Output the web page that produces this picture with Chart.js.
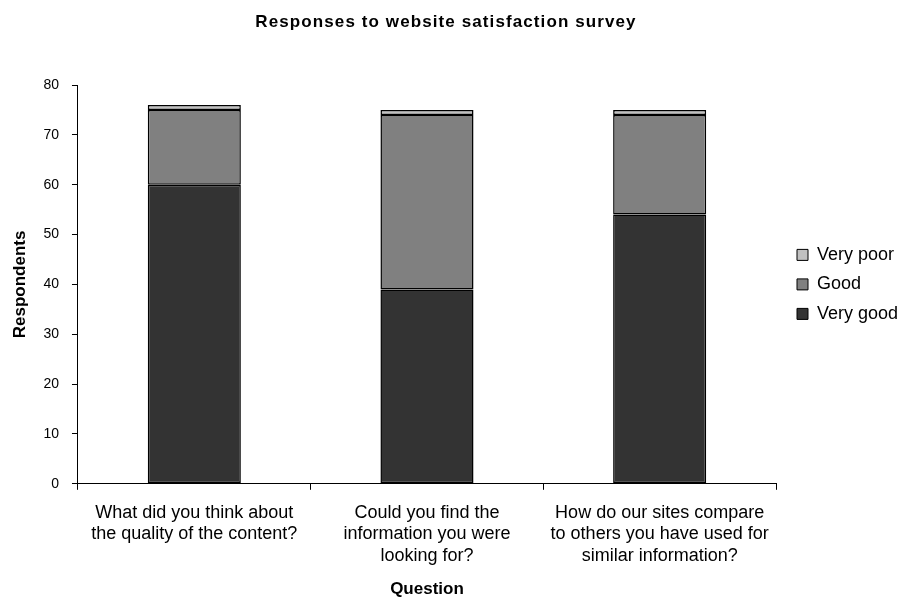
<!DOCTYPE html>
<html>
<head>
<meta charset="utf-8">
<script src="https://cdn.jsdelivr.net/npm/chart.js@4.4.1/dist/chart.umd.min.js"></script>
<style>
  html, body { margin: 0; padding: 0; background: #fff; }
  #wrap { width: 897px; height: 600px; }
</style>
</head>
<body>
<div id="wrap"><canvas id="surveyChart"></canvas></div>
<script>
const chartTitle = 'Responses to website satisfaction survey';
const questions = [
    ['What did you think about', 'the quality of the content?'],
    ['Could you find the', 'information you were', 'looking for?'],
    ['How do our sites compare', 'to others you have used for', 'similar information?']
];
const veryGood = [60, 39, 54];
const good = [15, 35, 20];
const veryPoor = [1, 1, 1];
const yTicks = [0, 10, 20, 30, 40, 50, 60, 70, 80];

Chart.defaults.font.family = '"Liberation Sans", Arial, sans-serif';
Chart.defaults.color = '#000';

// title drawn by hand so it can get a little letter spacing
const spacedTitle = {
    id: 'spacedTitle',
    afterDraw(chart) {
        const c = chart.ctx;
        c.save();
        c.font = 'bold 17px "Liberation Sans", Arial, sans-serif';
        c.fillStyle = '#000';
        c.textAlign = 'center';
        c.textBaseline = 'middle';
        c.letterSpacing = '1.1px';
        c.fillText(chartTitle, 446, 22);
        c.restore();
    }
};

const ctx = document.getElementById('surveyChart').getContext('2d');
const surveyChart = new Chart(ctx, {
    type: 'bar',
    data: {
        labels: questions,
        datasets: [{
            label: 'Very good',
            data: veryGood,
            backgroundColor: '#333333'
        }, {
            label: 'Good',
            data: good,
            backgroundColor: '#808080'
        }, {
            label: 'Very poor',
            data: veryPoor,
            backgroundColor: '#c0c0c0'
        }]
    },
    options: {
        responsive: true,
        maintainAspectRatio: false,
        animation: false,
        layout: {
            padding: { left: 0, right: 0, top: 85, bottom: 0 }
        },
        datasets: {
            bar: {
                categoryPercentage: 1,
                barPercentage: 0.4,
                borderColor: '#000',
                borderWidth: 1.5,
                borderSkipped: false
            }
        },
        scales: {
            x: {
                stacked: true,
                border: { color: '#000', width: 1 },
                grid: { drawOnChartArea: false, drawTicks: true, tickLength: 6, color: '#000', offset: true },
                ticks: { font: { size: 18, lineHeight: 1.2 }, padding: 12, maxRotation: 0 },
                title: { display: true, text: 'Question', font: { size: 17, weight: 'bold' }, padding: { top: 1, bottom: 0 } }
            },
            y: {
                stacked: true,
                min: 0,
                max: 80,
                afterBuildTicks: axis => { axis.ticks = yTicks.map(v => ({ value: v })); },
                border: { color: '#000', width: 1 },
                grid: { drawOnChartArea: false, drawTicks: true, tickLength: 6, color: '#000' },
                ticks: { font: { size: 14 }, padding: 13 },
                title: { display: true, text: 'Respondents', font: { size: 17, weight: 'bold' }, padding: { top: 10, bottom: 0 } }
            },
            // empty spacer between the plot and the legend
            gap: {
                axis: 'y',
                position: 'right',
                display: true,
                grid: { display: false },
                border: { display: false },
                ticks: { display: false },
                afterFit: scale => { scale.width = 9.5; }
            }
        },
        plugins: {
            title: { display: false },
            legend: {
                position: 'right',
                fullSize: false,
                maxWidth: 111.5,
                reverse: true,
                labels: {
                    boxWidth: 11,
                    boxHeight: 11,
                    padding: 11.5,
                    font: { size: 18 },
                    generateLabels: chart => Chart.defaults.plugins.legend.labels.generateLabels(chart).map(item => ({ ...item, strokeStyle: '#000', lineWidth: 1 }))
                }
            },
            tooltip: { enabled: false }
        }
    },
    plugins: [spacedTitle]
});
</script>
</body>
</html>
